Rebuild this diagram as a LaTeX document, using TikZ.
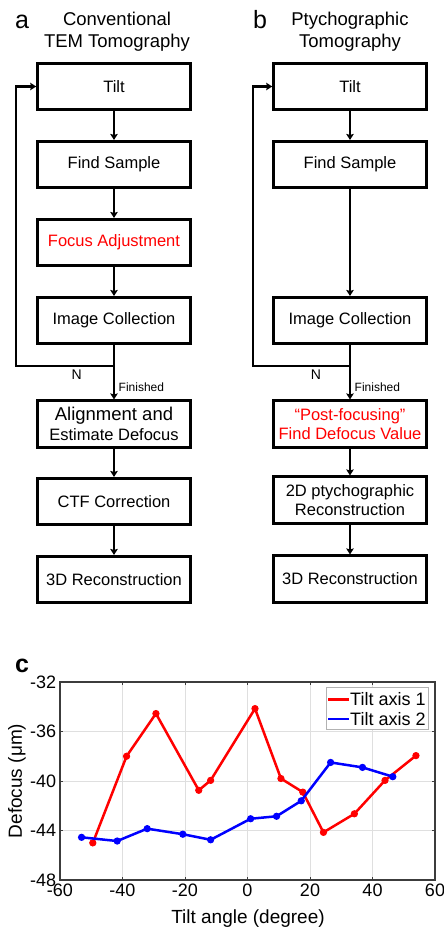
\documentclass[tikz,border=0pt]{standalone}
\usepackage{fontspec}
\setmainfont{Liberation Sans}
\usetikzlibrary{positioning,arrows.meta}
\definecolor{axisgray}{RGB}{60,60,60}
\definecolor{gridgray}{RGB}{223,223,223}

\begin{document}
\begin{tikzpicture}[>={Stealth[length=6pt,width=7.5pt,inset=1pt]},node distance=78pt,on grid,
      box/.style={draw,line width=2.6pt,minimum width=153pt,minimum height=46.5pt,inner sep=1pt,
        align=center,font=\fontsize{16.5}{19.5}\selectfont},
      flow/.style={->,line width=2.4pt},
      heading/.style={align=center,inner sep=0pt,font=\fontsize{18.5}{22}\selectfont},
      panel/.style={anchor=base west,inner sep=0pt,font=\fontsize{25}{30}\selectfont},
      small/.style={inner sep=1pt,font=\fontsize{12}{14}\selectfont},
      nlabel/.style={inner sep=1pt,font=\fontsize{14}{16}\selectfont},
      ticklab/.style={inner sep=2pt,font=\fontsize{18}{21}\selectfont},
      axlabel/.style={inner sep=0pt,font=\fontsize{19}{22}\selectfont},
      legtext/.style={anchor=west,inner sep=1pt,font=\fontsize{18}{21}\selectfont},
      gridline/.style={gridgray,line width=1pt},
      redline/.style={red,line width=2.5pt},
      blueline/.style={blue,line width=2.5pt}]
  \useasboundingbox (0pt,0pt) rectangle (444pt,-929pt);

  \node[box] (tilta) at (114pt,-86.5pt) {Tilt};
  \node[box,below=of tilta] (finda) {Find Sample};
  \node[box,below=of finda,text=red] (focusa) {Focus Adjustment};
  \node[box,below=of focusa] (imga) {Image Collection};
  \node[box,below=103.5pt of imga] (aligna) {{\fontsize{18.5}{19.5}\selectfont Alignment and}\\Estimate Defocus};
  \node[box,below=77.5pt of aligna] (ctfa) {CTF Correction};
  \node[box,below=of ctfa] (recona) {3D Reconstruction};
  \node[heading,above=10pt of tilta.north,anchor=south,xshift=3pt] (heada) {Conventional\\TEM Tomography};
  \node[panel] (laba) at (15pt,-28pt) {a};

  \node[box,right=236pt of tilta] (tiltb) {Tilt};
  \node[box,below=of tiltb] (findb) {Find Sample};
  \node[box,below=156pt of findb] (imgb) {Image Collection};
  \node[box,below=103.5pt of imgb,text=red] (postb) {“Post-focusing”\\Find Defocus Value};
  \node[box,below=76pt of postb] (ptyb) {2D ptychographic\\Reconstruction};
  \node[box,below=79pt of ptyb] (reconb) {3D Reconstruction};
  \node[heading,above=10pt of tiltb.north,anchor=south] (headb) {Ptychographic\\Tomography};
  \node[panel] (labb) at (253pt,-28pt) {b};

  \draw[flow] (tilta) -- (finda);
  \draw[flow] (finda) -- (focusa);
  \draw[flow] (focusa) -- (imga);
  \draw[flow] (imga) -- (aligna) node[pos=0.77,right=2.5pt,small] (fina) {Finished};
  \draw[flow] (aligna) -- (ctfa);
  \draw[flow] (ctfa) -- (recona);
  \coordinate[below=45.5pt of imga] (joina);
  \coordinate[left=98pt of joina] (cornera);
  \draw[flow] (joina) -- (cornera) node[pos=0.38,below=2pt,nlabel] (na) {N} |- (tilta);

  \draw[flow] (tiltb) -- (findb);
  \draw[flow] (findb) -- (imgb);
  \draw[flow] (imgb) -- (postb) node[pos=0.77,right=2.5pt,small] (finb) {Finished};
  \draw[flow] (postb) -- (ptyb);
  \draw[flow] (ptyb) -- (reconb);
  \coordinate[below=45.5pt of imgb] (joinb);
  \coordinate[left=97pt of joinb] (cornerb);
  \draw[flow] (joinb) -- (cornerb) node[pos=0.35,below=2pt,nlabel] (nb) {N} |- (tiltb);

  \node[panel,font=\bfseries\fontsize{25}{30}\selectfont] (labc) at (15pt,-672pt) {c};
  \begin{scope}[shift={(247.5pt,-286pt)},x=3.125pt,y=12.375pt]
    \foreach \gx in {-40,-20,...,40}
      \draw[gridline] (\gx,-48) -- (\gx,-32);
    \foreach \gy in {-44,-40,-36}
      \draw[gridline] (-60,\gy) -- (60,\gy);
    \foreach \gx in {-60,-40,...,60}{
      \draw[axisgray,line width=1pt] (\gx,-48) -- ++(0,3pt) (\gx,-32) -- ++(0,-3pt);
      \node[ticklab,below] (xt\gx) at (\gx,-48.1) {\gx};
    }
    \foreach \gy in {-48,-44,...,-32}{
      \draw[axisgray,line width=1pt] (-60,\gy) -- ++(3pt,0) (60,\gy) -- ++(-3pt,0);
      \node[ticklab,left] (yt\gy) at (-60.5,\gy) {\gy};
    }
    \draw[axisgray,line width=1.5pt] (-60,-48) rectangle (60,-32);
    \draw[redline,mark=*,mark size=3.1pt,mark options={line width=1pt}] plot coordinates {
      (-49.5,-45.0) (-38.7,-38.0) (-29.3,-34.55) (-15.6,-40.75) (-11.8,-39.95) (2.4,-34.15)
      (10.7,-39.8) (17.7,-40.9) (24.3,-44.15) (34.2,-42.65) (44.0,-39.95) (53.9,-37.95)};
    \draw[blueline,mark=*,mark size=3.1pt,mark options={line width=1pt}] plot coordinates {
      (-53.1,-44.55) (-41.7,-44.85) (-32.1,-43.85) (-20.7,-44.3) (-11.8,-44.75) (1.0,-43.05)
      (9.3,-42.85) (17.2,-41.6) (26.6,-38.5) (36.8,-38.9) (46.5,-39.65)};
  \end{scope}
  \node[axlabel] (xlab) at (248pt,-919pt) {Tilt angle (degree)};
  \node[axlabel,rotate=90] (ylab) at (17pt,-781pt) {Defocus (μm)};

  \draw[fill=white,draw=gray!60,line width=0.8pt] (326pt,-687pt) rectangle (428pt,-729pt);
  \node[legtext] (leg1) at (349pt,-699.5pt) {Tilt axis 1};
  \node[legtext] (leg2) at (349pt,-719pt) {Tilt axis 2};
  \draw[redline] (leg1.west) -- ++(-21pt,0);
  \draw[blueline] (leg2.west) -- ++(-21pt,0);
\end{tikzpicture}
\end{document}
